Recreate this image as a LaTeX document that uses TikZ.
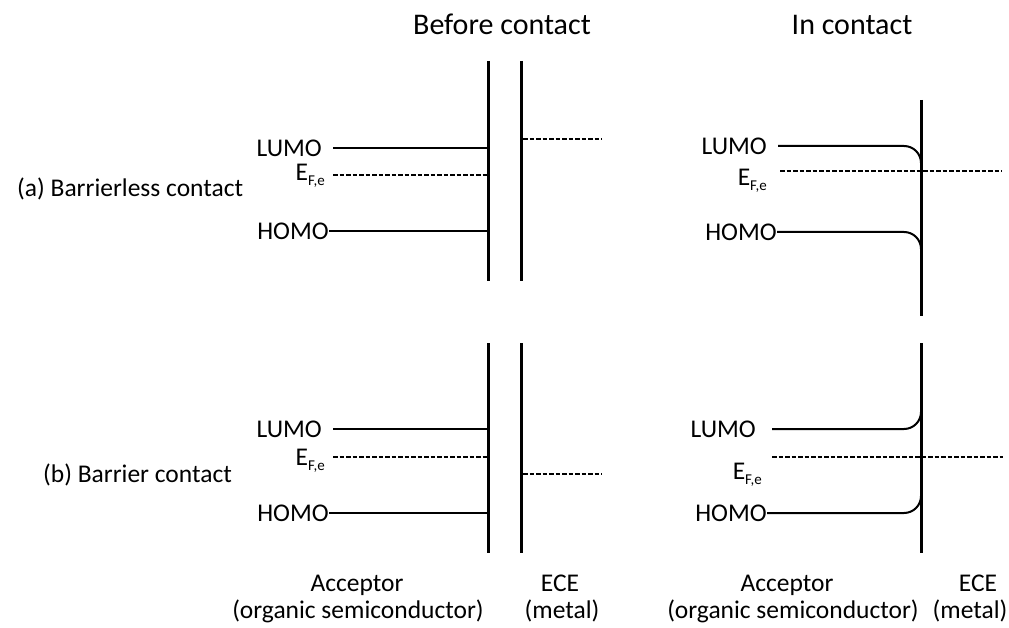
\documentclass[tikz,border=0pt]{standalone}
\usepackage{fontspec}
\setmainfont{Carlito}
\newcommand{\Efe}{E\raisebox{-5pt}{\fontsize{15}{18}\selectfont F,e}}
\begin{document}
\begin{tikzpicture}[x=1pt,y=-1pt,
  lbl/.style={font=\fontsize{25.5}{30}\selectfont, inner sep=0pt},
  ttl/.style={font=\fontsize{30}{36}\selectfont, inner sep=0pt},
  wall/.style={line width=3pt},
  level/.style={line width=2pt},
  fermi/.style={line width=1.8pt, dash pattern=on 4.5pt off 2pt},
  bentlevel/.style={line width=2pt, rounded corners=17pt}]
\useasboundingbox (0,0) rectangle (1009,628);

% titles
\node[ttl, anchor=base] (t1) at (502,35) {Before contact};
\node[ttl, anchor=base] (t2) at (852,35) {In contact};

% row labels
\node[lbl, anchor=base west] (ra) at (17,197) {(a) Barrierless contact};
\node[lbl, anchor=base west] (rb) at (43,482) {(b) Barrier contact};

% ---------- (a) before contact ----------
\coordinate (aw1t) at (488,61);  \coordinate (aw1b) at (488,281);
\coordinate (aw2t) at (521,61);  \coordinate (aw2b) at (521,281);
\draw[wall] (aw1t) -- (aw1b);
\draw[wall] (aw2t) -- (aw2b);
\node[lbl, anchor=east] (aL) at (322,148) {LUMO};
\node[lbl, anchor=base east] (aE) at (325,181) {\Efe};
\node[lbl, anchor=east] (aH) at (329,231) {HOMO};
\coordinate (aLs) at (333,148); \coordinate (aLe) at (488,148);
\coordinate (aEs) at (333,175); \coordinate (aEe) at (488,175);
\coordinate (aHs) at (329,231); \coordinate (aHe) at (488,231);
\coordinate (aMs) at (523,139); \coordinate (aMe) at (602,139);
\draw[level] (aLs) -- (aLe);
\draw[fermi] (aEs) -- (aEe);
\draw[level] (aHs) -- (aHe);
\draw[fermi] (aMs) -- (aMe);

% ---------- (a) in contact ----------
\coordinate (cwt) at (921,100); \coordinate (cwb) at (921,316);
\draw[wall] (cwt) -- (cwb);
\node[lbl, anchor=east] (cL) at (767,146) {LUMO};
\node[lbl, anchor=base east] (cE) at (767,186) {\Efe};
\node[lbl, anchor=east] (cH) at (777,232) {HOMO};
\coordinate (cLs) at (778,146); \coordinate (cLc) at (921,146); \coordinate (cLe) at (921,175);
\coordinate (cEs) at (780,171); \coordinate (cEe) at (1002,171);
\coordinate (cHs) at (777,232); \coordinate (cHc) at (921,232); \coordinate (cHe) at (921,260);
\draw[bentlevel] (cLs) -- (cLc) -- (cLe);
\draw[fermi] (cEs) -- (cEe);
\draw[bentlevel] (cHs) -- (cHc) -- (cHe);

% ---------- (b) before contact ----------
\coordinate (bw1t) at (488,343);  \coordinate (bw1b) at (488,553);
\coordinate (bw2t) at (521,343);  \coordinate (bw2b) at (521,553);
\draw[wall] (bw1t) -- (bw1b);
\draw[wall] (bw2t) -- (bw2b);
\node[lbl, anchor=east] (bL) at (322,429) {LUMO};
\node[lbl, anchor=base east] (bE) at (325,465) {\Efe};
\node[lbl, anchor=east] (bH) at (329,513) {HOMO};
\coordinate (bLs) at (333,429); \coordinate (bLe) at (488,429);
\coordinate (bEs) at (333,457); \coordinate (bEe) at (488,457);
\coordinate (bHs) at (329,513); \coordinate (bHe) at (488,513);
\coordinate (bMs) at (523,474); \coordinate (bMe) at (602,474);
\draw[level] (bLs) -- (bLe);
\draw[fermi] (bEs) -- (bEe);
\draw[level] (bHs) -- (bHe);
\draw[fermi] (bMs) -- (bMe);

% ---------- (b) in contact ----------
\coordinate (dwt) at (921,343); \coordinate (dwb) at (921,553);
\draw[wall] (dwt) -- (dwb);
\node[lbl, anchor=east] (dL) at (756,429) {LUMO};
\node[lbl, anchor=base east] (dE) at (762,479) {\Efe};
\node[lbl, anchor=east] (dH) at (767,513) {HOMO};
\coordinate (dLs) at (772,429); \coordinate (dLc) at (921,429); \coordinate (dLe) at (921,400);
\coordinate (dEs) at (772,457); \coordinate (dEe) at (1003,457);
\coordinate (dHs) at (767,513); \coordinate (dHc) at (921,513); \coordinate (dHe) at (921,485);
\draw[bentlevel] (dLs) -- (dLc) -- (dLe);
\draw[fermi] (dEs) -- (dEe);
\draw[bentlevel] (dHs) -- (dHc) -- (dHe);

% ---------- bottom labels ----------
\node[lbl, anchor=base] (acc1) at (357,591) {Acceptor};
\node[lbl, anchor=base] (org1) at (358,618) {(organic semiconductor)};
\node[lbl, anchor=base] (ece1) at (560,591) {ECE};
\node[lbl, anchor=base] (met1) at (562,618) {(metal)};
\node[lbl, anchor=base] (acc2) at (787,591) {Acceptor};
\node[lbl, anchor=base] (org2) at (793,618) {(organic semiconductor)};
\node[lbl, anchor=base] (ece2) at (978,591) {ECE};
\node[lbl, anchor=base] (met2) at (970,618) {(metal)};
\end{tikzpicture}
\end{document}
